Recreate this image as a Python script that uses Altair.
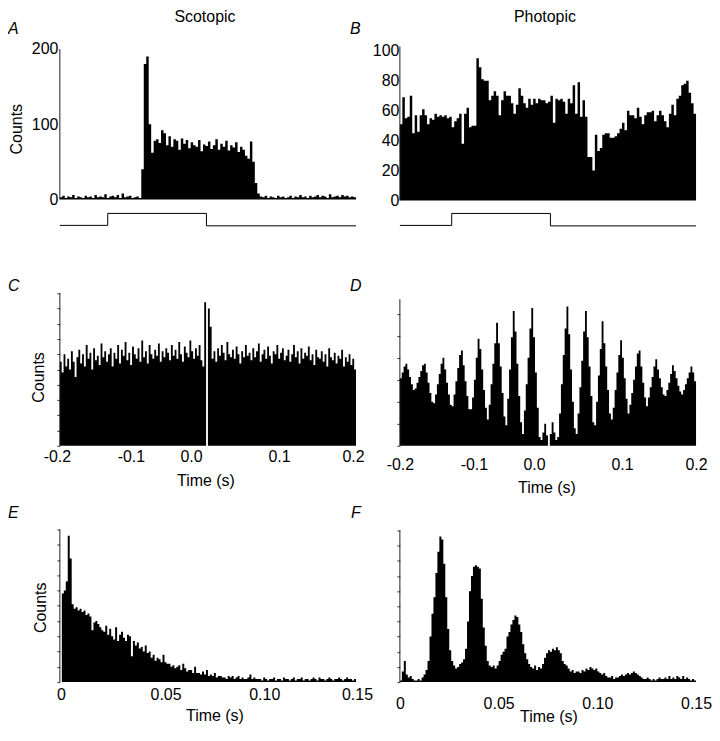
import altair as alt
import pandas as pd

FONT = "Liberation Sans"

# ---------------------------------------------------------------- data
# A: scotopic PSTH, 120 bins of 25 ms (counts)
psth_scot = [3, 5, 2, 4, 3, 6, 2, 4, 3, 2, 5, 3, 4, 2, 6, 3, 4, 3, 7, 2, 4, 5, 3, 6, 2, 8, 3, 4, 5, 2, 3, 4, 2,
             40, 180, 190, 100,
             62, 78, 80, 75, 92, 88, 72, 84, 70, 80, 78, 66, 81, 74, 79, 68, 76, 72, 70, 79, 64, 73, 71, 77,
             67, 72, 80, 66, 74, 70, 78, 65, 72, 69, 76, 63, 70, 66, 58, 54, 77, 50,
             22, 8,
             4, 3, 5, 2, 4, 3, 2, 5, 3, 4, 2, 3, 5, 2, 4, 3, 6, 3, 4, 2, 5, 3, 4, 6, 3, 5, 4, 2, 7, 3, 4, 5,
             3, 6, 4, 5, 3, 4, 3]
# B: photopic PSTH, 120 bins of 25 ms (counts)
psth_phot = [51, 69, 55, 56, 70, 45, 57, 46, 57, 61, 57, 51, 55, 54, 58, 56, 57, 56, 57, 55,
             56, 49, 53, 55, 58, 38, 58, 62, 49, 50, 50, 95, 89, 81, 80, 80, 67, 70, 73, 70,
             57, 67, 73, 70, 70, 65, 58, 64, 75, 70, 65, 62, 68, 64, 68, 65, 68, 67, 67, 65,
             66, 70, 52, 68, 67, 68, 66, 58, 68, 65, 77, 58, 79, 56, 67, 56, 29, 29, 20, 44,
             33, 35, 44, 45, 45, 42, 42, 43, 45, 48, 52, 47, 60, 57, 57, 55, 62, 56, 51, 57,
             59, 59, 60, 53, 57, 60, 57, 53, 49, 58, 64, 57, 68, 70, 77, 78, 80, 72, 65, 58]
psth_bin = 0.025
psth_span = [0.0, 3.0]
# stimulus on / off times (s)
stim_scot = [0.485, 1.485]
stim_phot = [0.525, 1.525]

# C / D: cross-correlograms, 160 bins of 2.5 ms starting at -0.2 s (arbitrary units)
ccg_scot = [55, 48, 60, 52, 57, 50, 62, 55, 45, 58, 63, 54, 60, 52, 66, 57, 61, 50, 64, 56,
            59, 53, 67, 58, 62, 55, 60, 64, 52, 61, 57, 66, 54, 63, 59, 68, 56, 61, 53, 65,
            60, 57, 64, 55, 69, 58, 62, 54, 66, 60, 57, 63, 59, 67, 55, 62, 58, 64, 61, 56,
            66, 59, 63, 57, 68, 60, 55, 65, 61, 58, 69, 62, 57, 64, 59, 66, 56, 52,
            94, 0, 90, 78,
            57, 62, 55, 64, 59, 66, 61, 56, 68, 60, 58, 63, 57, 65, 60, 54, 62, 58, 66, 59,
            61, 56, 64, 58, 62, 67, 55, 60, 63, 57, 65, 59, 54, 62, 60, 66, 57, 61, 64, 56,
            59, 63, 55, 60, 66, 58, 62, 54, 64, 57, 61, 59, 65, 56, 60, 53, 63, 58, 57, 62,
            55, 60, 52, 64, 58, 56, 61, 54, 59, 57, 63, 52, 58, 55, 60, 53, 57, 50]
ccg_phot = [46, 50, 54, 56, 52, 47, 42, 38,
            39, 43, 47, 51, 55, 56, 50, 43, 36, 30,
            29, 35, 42, 49, 56, 60, 52, 43, 35, 28,
            27, 35, 44, 53, 62, 65, 55, 44, 34, 25,
            25, 33, 45, 60, 73, 66, 52, 38, 26, 18,
            28, 42, 56, 70, 84, 70, 54, 36, 20,
            14, 32, 52, 74, 92, 78, 56, 34, 16,
            8, 24, 42, 60, 80, 94, 74, 50, 26, 6,
            4, 9, 15, 7, 0, 8, 16, 9, 4,
            6, 22, 42, 62, 80, 95, 76, 52, 30, 12,
            8, 22, 40, 58, 78, 92, 74, 54, 34, 16,
            14, 30, 48, 66, 85, 70, 54, 38, 22, 18,
            26, 38, 50, 62, 72, 60, 46, 32, 22,
            28, 36, 45, 54, 63, 65, 54, 43, 33, 27,
            33, 40, 47, 54, 59, 52, 46, 40, 35, 34,
            38, 43, 49, 55, 51, 46, 41, 37, 35, 38,
            42, 46, 50, 54, 50, 44]
ccg_bin = 0.0025
ccg_span = [-0.2, 0.2]

# E / F: autocorrelograms, 150 bins of 1 ms starting at 0 s (arbitrary units)
acg_scot = [0, 58, 60, 66, 96, 81, 51, 48, 49, 47,
            48, 46, 47, 44, 45, 43, 34, 39, 40, 38,
            36, 34, 33, 37, 31, 35, 30, 28, 36, 27,
            31, 33, 29, 27, 31, 30, 17, 27, 24, 26,
            22, 23, 20, 24, 19, 20, 16, 18, 14, 16,
            15, 13, 18, 13, 12, 12, 10, 11, 9, 10,
            11, 8, 12, 9, 7, 8, 8, 6, 10, 6,
            6, 5, 7, 5, 8, 4, 5, 4, 6, 3,
            4, 4, 3, 3, 2, 4, 3, 4, 2, 3,
            4, 2, 3, 2, 2, 3, 5, 2, 3, 2,
            2, 2, 1, 3, 2, 1, 2, 2, 3, 1,
            2, 2, 1, 3, 2, 2, 1, 2, 3, 1,
            2, 2, 3, 1, 2, 2, 1, 2, 3, 2,
            1, 3, 2, 2, 1, 2, 3, 2, 1, 2,
            2, 3, 2, 1, 2, 3, 2, 2, 1, 2]
acg_phot = [1, 7, 14, 5, 3, 4, 2, 1, 1, 2,
            1, 3, 5, 8, 14, 30, 45, 56, 72, 86,
            96, 94, 78, 56, 35, 21, 14, 11, 9, 10,
            12, 13, 15, 22, 40, 60, 70, 76, 77, 76,
            75, 55, 36, 24, 14, 11, 10, 11, 9, 11,
            14, 18, 20, 22, 30, 33, 38, 41, 44, 43,
            38, 33, 25, 19, 15, 12, 10, 9, 11, 8,
            10, 9, 12, 16, 19, 21, 20, 22, 21, 23,
            21, 19, 14, 12, 11, 9, 7, 8, 6, 7,
            7, 6, 8, 7, 9, 8, 10, 9, 8, 9,
            7, 6, 5, 6, 4, 3, 3, 4, 2, 3,
            3, 4, 5, 4, 5, 6, 5, 6, 7, 6,
            5, 4, 3, 2, 2, 3, 2, 1, 2, 1,
            2, 3, 2, 2, 3, 2, 4, 2, 3, 2,
            4, 3, 2, 4, 2, 3, 2, 1, 2, 1]
acg_bin = 0.001
acg_span = [0.0, 0.15]

psth_ticks_scot = [0, 100, 200]
psth_ticks_phot = [0, 20, 40, 60, 80, 100]
ccg_ticks = [-0.2, -0.1, 0.0, 0.1, 0.2]
acg_ticks = [0, 0.05, 0.10, 0.15]

# ---------------------------------------------------------------- layout constants
W = 297
H_TOP, H_MID, H_BOT = 178, 153, 170


def hist_frame(vals, start, width):
    t = [start + i * width for i in range(len(vals) + 1)]
    v = list(vals) + [vals[-1]]
    return pd.DataFrame({"t": t, "v": v, "z": [0] * len(t)})


def panel(vals, start, width, xdom, ydom, axis_top, h, xaxis, yaxis,
          letter, ldx, loff, stim=None, levels=None):
    xs = alt.Scale(domain=xdom, nice=False, zero=False)
    ys = alt.Scale(domain=ydom, nice=False, zero=False)
    df = hist_frame(vals, start, width)
    hist = alt.Chart(df).mark_area(interpolate="step-after", color="black").encode(
        x=alt.X("t:Q", scale=xs, axis=xaxis),
        y=alt.Y("v:Q", scale=ys, axis=yaxis),
        y2=alt.Y2("z:Q"),
    )
    # vertical axis line drawn from zero to the top of the data range
    rdf = pd.DataFrame({"t": [xdom[0]], "v": [0], "b": [axis_top]})
    rule = alt.Chart(rdf).mark_rule(color="#222", strokeWidth=1).encode(
        x=alt.X("t:Q", scale=xs, axis=xaxis),
        y=alt.Y("v:Q", scale=ys, axis=yaxis),
        y2=alt.Y2("b:Q"),
    )
    layers = [hist, rule]
    if stim is not None:
        on, off = stim
        lo, hi, lo2 = levels
        sdf = pd.DataFrame({"t": [xdom[0], on, on, off, off, xdom[1]],
                            "v": [lo, lo, hi, hi, lo2, lo2],
                            "i": list(range(6))})
        line = alt.Chart(sdf).mark_line(color="black", strokeWidth=1).encode(
            x=alt.X("t:Q", scale=xs, axis=xaxis),
            y=alt.Y("v:Q", scale=ys, axis=yaxis),
            order="i:Q",
        )
        layers.append(line)
    return alt.layer(*layers).properties(
        width=W, height=h,
        title=alt.TitleParams(text=letter, anchor="start", frame="group", dx=ldx,
                              offset=loff, baseline="middle", fontStyle="italic"),
    )


def top_axis(text):
    return alt.Axis(orient="top", labels=False, ticks=False, domain=False, title=text,
                    titleX=145, titleY=-32, titleAlign="center", titleBaseline="middle",
                    titleAngle=0, grid=False)


def y_axis(values, labels=True, title=None, tx=0, ty=0, pad=2, ticks=False):
    kw = dict(values=values, labels=labels, domain=False, ticks=ticks,
              tickSize=3 if ticks else 0, labelPadding=pad, grid=False,
              labelOverlap=False, labelBound=False)
    if title:
        kw.update(title=title, titleX=tx, titleY=ty, titleAlign="center",
                  titleBaseline="middle", titleAngle=270)
    else:
        kw.update(title=None)
    return alt.Axis(**kw)


def x_axis(values, expr, pad, tx, ty, loffset):
    return alt.Axis(values=values, labelExpr=expr, ticks=False, tickSize=0, domain=False,
                    labelPadding=pad, labelFlush=False, labelOverlap=False, grid=False,
                    labelOffset=loffset,
                    title="Time (s)", titleX=tx, titleY=ty, titleAlign="center",
                    titleBaseline="middle")


ccg_expr = "replace(format(datum.value, '.1f'), '\u2212', '-')"
acg_expr = "datum.value == 0 ? '0' : format(datum.value, '.2f')"

pA = panel(psth_scot, 0.0, psth_bin, psth_span, [-35.76, 200], 200, H_TOP,
           top_axis("Scotopic"),
           y_axis(psth_ticks_scot, True, "Counts", -43, 80, 2),
           "A", -52, -36, stim_scot, (-34.4, -18.5, -35.0))
pB = panel(psth_phot, 0.0, psth_bin, psth_span, [-17.33, 101.33], 103, H_TOP,
           top_axis("Photopic"),
           y_axis(psth_ticks_phot, True, None, 0, 0, 1),
           "B", -50, -36, stim_phot, (-16.67, -8.67, -17.0))
pC = panel(ccg_scot, ccg_span[0], ccg_bin, ccg_span, [0, 100], 100, H_MID,
           x_axis(ccg_ticks, ccg_expr, 3, 146, 35,
                  {"condition": {"test": "datum.value == 0", "value": -17}, "value": -3}),
           y_axis(list(range(0, 101, 10)), False, "Counts", -21, 84, 2, True),
           "C", -52, -9)
pD = panel(ccg_phot, ccg_span[0], ccg_bin, ccg_span, [0, 104.08], 100, H_MID,
           x_axis(ccg_ticks, ccg_expr, 11, 147, 42,
                  {"condition": {"test": "datum.value == 0", "value": -14}, "value": 0}),
           y_axis(list(range(0, 101, 15)), False, None, 0, 0, 2, True),
           "D", -50, -9)
pE = panel(acg_scot, acg_span[0], acg_bin, acg_span, [0, 111.1], 100, H_BOT,
           x_axis(acg_ticks, acg_expr, 4, 155, 34,
                  {"condition": {"test": "datum.value > 0.01 && datum.value < 0.12", "value": 7},
                   "value": 1}),
           y_axis(list(range(0, 101, 10)), False, "Counts", -19, 95, 2, True),
           "E", -52, -16)
pF = panel(acg_phot, acg_span[0], acg_bin, acg_span, [0, 111.8], 100, H_BOT,
           x_axis(acg_ticks, acg_expr, 13, 149, 35, 0),
           y_axis(list(range(0, 101, 10)), False, None, 0, 0, 2, True),
           "F", -49, -16)

chart = alt.concat(
    pA, pB, pC, pD, pE, pF,
    columns=2,
    spacing={"row": 67, "column": 44},
    bounds="flush",
    align="each",
).properties(
    padding={"left": 0, "top": 0, "right": 0, "bottom": 0},
).configure_view(
    stroke=None,
).configure_axis(
    labelFont=FONT, titleFont=FONT, labelFontSize=16, titleFontSize=16,
    titleFontWeight="normal", labelColor="black", titleColor="black",
    tickColor="#333", tickWidth=1,
).configure_title(
    font=FONT, fontSize=16, fontWeight="normal", color="black",
)

chart.save("out.html", embed_options={"renderer": "svg", "actions": False})
